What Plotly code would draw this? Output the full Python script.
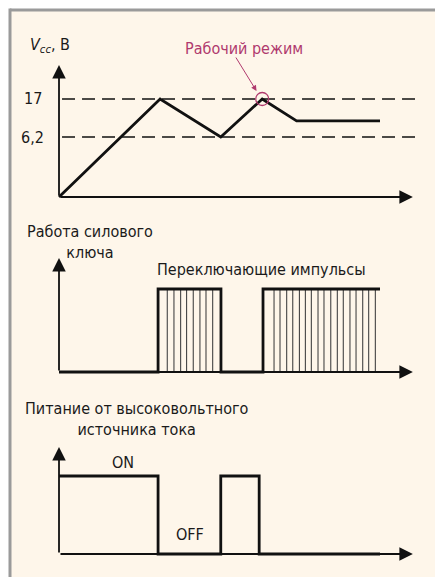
import plotly.graph_objects as go

# ---------------- data ----------------
# time axis (arbitrary schematic units)
vcc_t = [0, 10.0, 16.0, 20.1, 23.5, 31.75]
vcc_level = [0, 1.0, 0.612, 1.0, 0.776, 0.776]      # schematic level, 1.0 = 17 V
vcc_tick_vals = [1.0, 0.612]
vcc_tick_text = ["17", "6,2"]
work_point = (20.1, 1.0)

switch_t = [0, 9.8, 16.02, 20.18, 31.75]
switch_level = [0, 1, 0, 1, 1]
pulse_group1 = [10.71, 11.37, 12.03, 12.62, 13.28, 13.94, 14.54, 15.2]
pulse_group2 = [21.27, 21.86, 22.52, 23.12, 23.78, 24.37, 24.96, 25.62, 26.21,
                26.88, 27.53, 28.12, 28.78, 29.38, 30.04, 30.63, 31.29]

hv_t = [0, 9.8, 16.0, 19.8, 31.75]
hv_level = [1, 0, 1, 0, 0]

axis_t_end = 35.0
dash_t = [0.3, 35.5]

# ---------------- layout helpers ----------------
W, H = 435, 577
X0_PX, PX_PER_T = 59, 10.11
XR = [-0.5, 36.0]
xdom = [(X0_PX + XR[0] * PX_PER_T) / W, (X0_PX + XR[1] * PX_PER_T) / W]

panels = [  # (y0 px, px per unit, y range, arrow top)
    (197, 98, [-0.08, 1.40], 1.347),
    (372, 83, [-0.08, 1.42], 1.373),
    (554, 78, [-0.08, 1.42], 1.372),
]

def ydom(y0, per, yr):
    return [1 - (y0 - yr[0] * per) / H, 1 - (y0 - yr[1] * per) / H]

def px(x):
    return x / W

def py(y):
    return 1 - y / H

BLACK = "#111111"
PINK = "#b03a6e"
FONT = "Liberation Sans Narrow, Arial Narrow, DejaVu Sans Condensed, sans-serif"

fig = go.Figure()

# panel 1: Vcc
for lv in vcc_tick_vals:
    fig.add_trace(go.Scatter(x=dash_t, y=[lv, lv], mode="lines", xaxis="x", yaxis="y",
                             line=dict(color=BLACK, width=1.3, dash="13px,7px"),
                             hoverinfo="skip"))
fig.add_trace(go.Scatter(x=vcc_t, y=vcc_level, mode="lines", xaxis="x", yaxis="y",
                         line=dict(color=BLACK, width=2.8), hoverinfo="skip"))
fig.add_trace(go.Scatter(x=[work_point[0]], y=[work_point[1]], mode="markers",
                         xaxis="x", yaxis="y",
                         marker=dict(symbol="circle-open", size=13,
                                     line=dict(color=PINK, width=1.3), color=PINK),
                         hoverinfo="skip"))

# panel 2: switching pulses
px_list, py_list = [], []
for t in pulse_group1 + pulse_group2:
    px_list += [t, t, None]
    py_list += [0, 1, None]
fig.add_trace(go.Scatter(x=px_list, y=py_list, mode="lines", xaxis="x2", yaxis="y2",
                         line=dict(color="#444444", width=1.1), hoverinfo="skip"))
fig.add_trace(go.Scatter(x=switch_t, y=switch_level, mode="lines", xaxis="x2", yaxis="y2",
                         line=dict(color=BLACK, width=2.8, shape="hv"), hoverinfo="skip"))

# panel 3: HV supply
fig.add_trace(go.Scatter(x=hv_t, y=hv_level, mode="lines", xaxis="x3", yaxis="y3",
                         line=dict(color=BLACK, width=2.8, shape="hv"), hoverinfo="skip"))

annotations = []
axis_names = [("x", "y"), ("x2", "y2"), ("x3", "y3")]
for (xa, ya), (y0, per, yr, ytop) in zip(axis_names, panels):
    # x axis arrow
    annotations.append(dict(x=axis_t_end, y=0, ax=0, ay=0, xref=xa, yref=ya,
                            axref=xa, ayref=ya, text="", showarrow=True,
                            arrowhead=2, arrowsize=1.5, arrowwidth=1.8,
                            arrowcolor=BLACK))
    # y axis arrow
    annotations.append(dict(x=0, y=ytop, ax=0, ay=0, xref=xa, yref=ya,
                            axref=xa, ayref=ya, text="", showarrow=True,
                            arrowhead=2, arrowsize=1.5, arrowwidth=1.8,
                            arrowcolor=BLACK))

txt = dict(family=FONT, size=16, color="#1a1a1a")
for lv, lab in zip(vcc_tick_vals, vcc_tick_text):
    annotations.append(dict(x=px(32.5), y=lv, xref="paper", yref="y", text=lab,
                            showarrow=False, xanchor="center", yanchor="middle", font=txt))

annotations += [
    dict(x=px(50), y=py(45), text="<i>V</i><sub><i>cc</i></sub>, В"),
    dict(x=px(243.5), y=py(49), text="Рабочий режим",
         font=dict(family=FONT, size=16, color=PINK)),
    dict(x=px(90), y=py(242), text="Работа силового<br>ключа"),
    dict(x=px(261), y=py(269), text="Переключающие импульсы"),
    dict(x=px(137), y=py(419), text="Питание от высоковольтного<br>источника тока"),
    dict(x=px(122.5), y=py(462), text="ON"),
    dict(x=px(190), y=py(534), text="OFF"),
]
for a in annotations[-7:]:
    a.setdefault("xref", "paper")
    a.setdefault("yref", "paper")
    a.setdefault("showarrow", False)
    a.setdefault("xanchor", "center")
    a.setdefault("yanchor", "middle")
    a.setdefault("align", "center")
    a.setdefault("font", txt)

# pink pointer arrow
annotations.append(dict(x=px(256.5), y=py(91), ax=235 - 256.5, ay=56 - 91,
                        xref="paper", yref="paper", text="", showarrow=True,
                        arrowhead=2, arrowsize=1.1, arrowwidth=1, arrowcolor=PINK))

shapes = [
    dict(type="rect", xref="paper", yref="paper", x0=px(10), x1=1.01, y0=-0.01, y1=py(10),
         fillcolor="#fef6ea", line=dict(width=0), layer="below"),
    dict(type="line", xref="paper", yref="paper", x0=px(10), x1=1.01, y0=py(10), y1=py(10),
         line=dict(color="#9a9a9a", width=3), layer="below"),
    dict(type="line", xref="paper", yref="paper", x0=px(10), x1=px(10), y0=-0.01, y1=py(8.5),
         line=dict(color="#9a9a9a", width=3), layer="below"),
]

hidden = dict(visible=False, fixedrange=True)
layout = dict(
    width=W, height=H, margin=dict(l=0, r=0, t=0, b=0),
    paper_bgcolor="white", plot_bgcolor="rgba(0,0,0,0)",
    showlegend=False, annotations=annotations, shapes=shapes,
)
for i, ((xa, ya), (y0, per, yr, ytop)) in enumerate(zip(axis_names, panels)):
    sx = "" if i == 0 else str(i + 1)
    layout["xaxis" + sx] = dict(domain=xdom, range=XR, anchor=ya, **hidden)
    layout["yaxis" + sx] = dict(domain=ydom(y0, per, yr), range=yr, anchor=xa, **hidden)

fig.update_layout(**layout)
fig.write_html("out.html", config={"displayModeBar": False},
               post_script="document.body.style.margin='0';document.body.style.overflow='hidden';")
